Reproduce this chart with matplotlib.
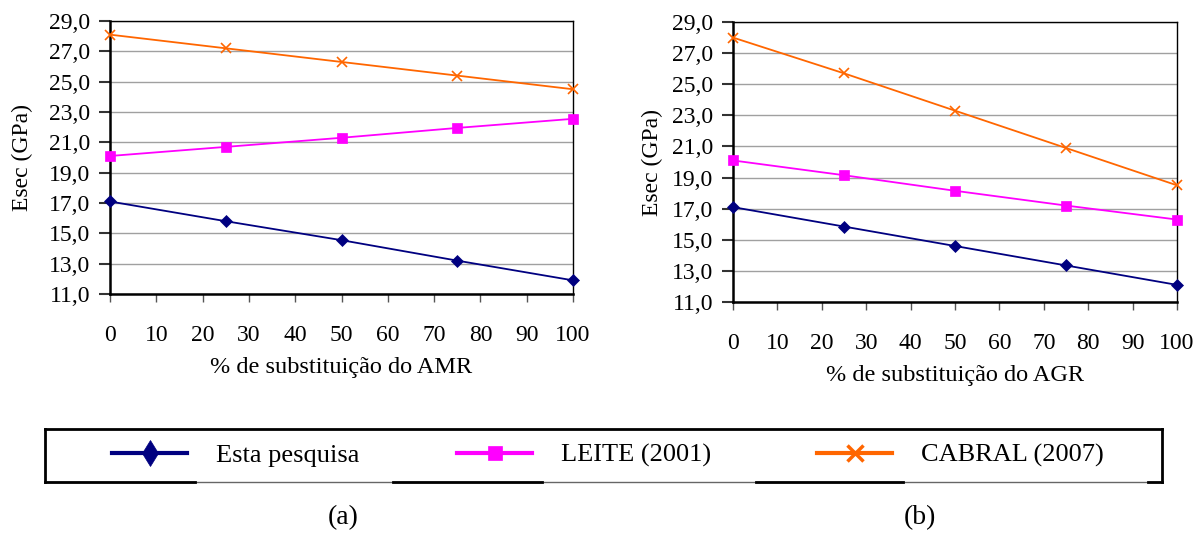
import numpy as np
import matplotlib.pyplot as plt
from matplotlib.lines import Line2D
from matplotlib.ticker import FuncFormatter, MultipleLocator, FixedLocator

plt.rcParams['font.family'] = ['Liberation Serif', 'DejaVu Serif']

# Dados
substituicao = [0, 25, 50, 75, 100]

amr_esta = [17.1, 15.8, 14.55, 13.2, 11.9]
amr_leite = [20.1, 20.7, 21.3, 21.95, 22.55]
amr_cabral = [28.1, 27.2, 26.3, 25.4, 24.5]

agr_esta = [17.1, 15.85, 14.6, 13.35, 12.1]
agr_leite = [20.1, 19.15, 18.15, 17.2, 16.3]
agr_cabral = [28.0, 25.7, 23.3, 20.9, 18.5]

nomes = ['Esta pesquisa', 'LEITE (2001)', 'CABRAL (2007)']
cores = ['#000080', '#FF00FF', '#FF6600']
marcadores = ['D', 's', 'x']

W, H = 1196, 535


def desenhar(ax, series, xlabel, ylabel_x):
    for y, cor, m in zip(series, cores, marcadores):
        ax.plot(substituicao, y, color=cor, marker=m,
                markersize={'D': 6, 's': 6.5, 'x': 7.5}[m],
                linewidth=1.3, markeredgewidth=1.2 if m == 'x' else 0.5,
                clip_on=False, zorder=3)
    ax.set_xlim(0, 100)
    ax.set_ylim(11, 29)
    ax.xaxis.set_major_locator(MultipleLocator(10))
    ax.yaxis.set_major_locator(FixedLocator(np.arange(11, 30, 2)))
    ax.yaxis.set_major_formatter(FuncFormatter(lambda v, p: f'{v:.1f}'.replace('.', ',')))
    ax.grid(axis='y', color='#a0a0a0', linewidth=1)
    ax.set_axisbelow(True)
    ax.tick_params(axis='x', direction='out', length=6, width=1, pad=16,
                   labelsize=17, color='#555555')
    ax.tick_params(axis='y', direction='out', length=8, width=1.5, pad=6,
                   labelsize=17, color='#333333')
    for s in ['left', 'bottom']:
        ax.spines[s].set_linewidth(1.8)
    for s in ['top', 'right']:
        ax.spines[s].set_linewidth(1.0)
    ax.set_xlabel(xlabel, fontsize=17.5, labelpad=8)
    ax.set_ylabel('Esec (GPa)', fontsize=17)
    ax.yaxis.set_label_coords(ylabel_x, 0.5)


fig = plt.figure(figsize=(W / 100, H / 100), dpi=100)
ax1 = fig.add_axes([110 / W, 1 - 294 / H, 463 / W, 273 / H])
ax2 = fig.add_axes([733 / W, 1 - 302 / H, 444 / W, 280 / H])

desenhar(ax1, [amr_esta, amr_leite, amr_cabral], '% de substituição do AMR', -0.166)
desenhar(ax2, [agr_esta, agr_leite, agr_cabral], '% de substituição do AGR', -0.158)

# Legenda em três partes, dentro de uma moldura comum
inicio_px = [112, 457, 817]
for nome, cor, m, x0 in zip(nomes, cores, marcadores, inicio_px):
    h = Line2D([], [], color=cor, marker=m, linewidth=3,
               markersize={'D': 10, 's': 10, 'x': 11}[m],
               markeredgewidth=2.5 if m == 'x' else 0.5)
    if m == 'D':
        h.set_marker('d')
        h.set_markersize(13)
    fig.legend(handles=[h], labels=[nome], loc='center left',
               bbox_to_anchor=(x0 / W, 1 - 455.5 / H), frameon=False,
               fontsize=19, handlelength=2.85, handletextpad=1.1,
               borderpad=0, borderaxespad=0)

esq, dir_, topo, base = 45, 1162, 429, 482
fx = lambda px: px / W
fy = lambda py: 1 - py / H
fig.add_artist(Line2D([fx(esq), fx(dir_)], [fy(topo), fy(topo)], color='black', linewidth=2))
fig.add_artist(Line2D([fx(esq), fx(esq)], [fy(topo), fy(base)], color='black', linewidth=2))
fig.add_artist(Line2D([fx(dir_), fx(dir_)], [fy(topo), fy(base)], color='black', linewidth=2))
fig.add_artist(Line2D([fx(esq), fx(dir_)], [fy(base), fy(base)], color='#666666', linewidth=1))
for a, b in [(45, 195), (393, 542), (756, 903), (1148, 1162)]:
    fig.add_artist(Line2D([fx(a), fx(b)], [fy(base), fy(base)], color='black', linewidth=2))

fig.text(343 / W, 1 - 518 / H, '(a)', fontsize=20, ha='center', va='center')
fig.text(920 / W, 1 - 518 / H, '(b)', fontsize=20, ha='center', va='center')

fig.savefig('out.png', dpi=100)
